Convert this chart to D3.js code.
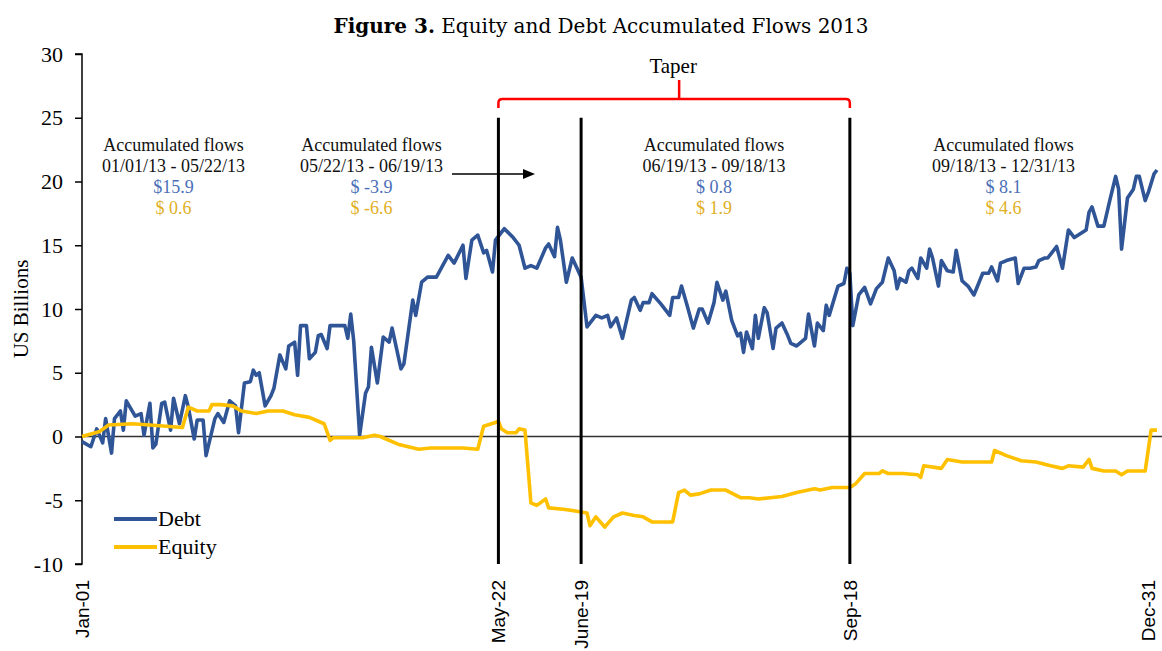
<!DOCTYPE html>
<html>
<head>
<meta charset="utf-8">
<script src="https://d3js.org/d3.v7.min.js"></script>
<style>
body {
  margin: 0;
  background: white;
}
</style>
<title>Equity and Debt Accumulated Flows 2013</title>
</head>
<body>
<div id="chart"></div>
<script>
// day of year (0 = Jan-01) and accumulated flows, US$ billions
const debtDays = [0,3,5,7,8,10,11,13,14,15,18,20,21,23,24,25,27,28,30,31,33,35,36,38,39,41,42,45,46,48,50,52,53,55,57,58,59,60,62,64,65,67,69,70,72,73,74,76,77,79,80,81,83,84,87,89,90,91,92,94,96,97,98,100,102,104,105,108,109,112,113,115,117,120,124,126,129,130,132,134,136,137,139,140,143,146,148,150,152,154,157,158,160,161,162,164,166,169,171,174,176,178,179,181,183,186,187,189,190,192,193,196,199,200,202,203,205,207,209,210,212,214,215,217,218,220,222,223,224,225,227,228,229,231,232,234,235,237,239,240,242,245,246,248,249,251,252,253,256,258,259,260,261,263,265,267,269,271,273,275,276,277,279,280,281,283,284,286,287,288,290,291,293,295,296,298,300,302,305,307,308,310,311,313,316,317,319,321,323,324,326,327,330,332,334,336,338,340,341,342,344,346,348,350,351,352,354,356,357,358,360,361,363,364];
const debtValues = [-0.4,-0.8,0.6,-0.5,1.4,-1.3,1.4,2.0,0.5,2.8,1.6,1.8,0.1,2.6,-0.9,-0.6,2.6,2.7,0.5,3.0,1.0,3.2,2.3,-0.2,1.3,1.3,-1.5,1.4,1.8,1.1,2.8,2.4,0.3,4.2,4.3,5.2,4.8,5.0,2.4,3.2,3.8,6.4,5.3,7.1,7.4,4.8,8.7,8.7,6.1,6.6,7.9,8.0,6.9,8.7,8.7,8.7,7.7,9.6,7.5,0.1,3.4,3.9,7.0,4.2,7.8,7.4,8.5,5.3,5.7,10.7,9.5,12.1,12.5,12.5,14.2,13.6,15.0,12.4,15.4,15.8,14.4,14.6,12.9,15.4,16.3,15.6,15.0,13.2,13.4,13.2,14.8,15.1,14.1,16.4,15.4,12.1,14.0,12.5,8.6,9.5,9.3,9.5,8.6,9.3,7.7,10.7,10.9,9.9,10.5,10.5,11.2,10.4,9.5,10.9,10.9,11.8,10.2,8.5,10.0,10.0,8.9,10.5,12.1,10.7,11.4,9.1,7.9,8.1,6.6,8.2,6.9,9.5,7.7,10.1,9.7,6.9,8.5,8.9,7.9,7.3,7.1,7.7,9.6,7.1,8.9,8.3,10.3,9.5,11.8,12.0,13.2,12.8,8.7,11.1,11.7,10.4,11.6,12.1,14.0,13.0,11.6,12.4,12.1,13.0,13.2,12.4,14.0,13.2,14.7,14.0,11.8,13.8,13.0,12.9,14.6,12.2,11.8,11.1,12.8,12.8,13.3,12.2,13.6,13.8,14.0,12.0,13.2,13.2,13.3,13.8,14.0,14.0,14.9,13.2,16.2,15.6,15.9,16.2,17.6,18.0,16.5,16.5,18.5,20.4,19.4,14.7,18.7,19.4,20.4,20.4,18.5,19.1,20.6,20.9];

const equityDays = [0,3,6,9,17,23,34,36,39,43,44,47,51,54,59,63,68,72,77,81,82,84,85,90,95,99,101,107,114,118,124,129,134,136,140,141,142,144,147,148,150,152,154,157,158,163,166,171,172,174,177,180,183,187,190,193,198,200,202,204,206,209,213,218,223,226,229,233,237,242,248,250,254,260,262,265,270,271,273,278,283,284,285,291,293,298,308,309,313,318,323,328,332,334,339,341,342,346,350,352,354,360,362,364];
const equityValues = [0.0,0.2,0.4,0.9,1.0,0.9,0.7,2.3,2.0,2.0,2.5,2.5,2.4,2.0,1.8,2.0,2.0,1.7,1.5,1.1,1.0,-0.3,-0.1,-0.1,-0.1,0.1,0.0,-0.6,-1.0,-0.9,-0.9,-0.9,-1.0,0.8,1.1,1.2,0.6,0.3,0.3,0.6,0.5,-5.2,-5.4,-4.9,-5.6,-5.7,-5.8,-6.0,-7.0,-6.3,-7.1,-6.3,-6.0,-6.2,-6.3,-6.7,-6.7,-6.7,-4.4,-4.2,-4.6,-4.5,-4.2,-4.2,-4.8,-4.8,-4.9,-4.8,-4.7,-4.4,-4.1,-4.2,-4.0,-4.0,-3.7,-2.9,-2.9,-2.7,-2.9,-2.9,-3.0,-3.2,-2.3,-2.5,-1.8,-2.0,-2.0,-1.1,-1.5,-1.9,-2.0,-2.3,-2.5,-2.3,-2.4,-1.8,-2.5,-2.7,-2.7,-3.0,-2.7,-2.7,0.5,0.5];

const yTicks = [-10, -5, 0, 5, 10, 15, 20, 25, 30];
const xTickDates = ["2013-01-01", "2013-05-22", "2013-06-19", "2013-09-18", "2013-12-31"];
const xTickLabels = ["Jan-01", "May-22", "June-19", "Sep-18", "Dec-31"];
const eventDates = ["2013-05-22", "2013-06-19", "2013-09-18"];

const periodLabels = ["01/01/13 - 05/22/13", "05/22/13 - 06/19/13", "06/19/13 - 09/18/13", "09/18/13 - 12/31/13"];
const periodDebt = ["$15.9", "$ -3.9", "$ 0.8", "$ 8.1"];
const periodEquity = ["$ 0.6", "$ -6.6", "$ 1.9", "$ 4.6"];
const periodCenters = [31, 98, 214, 312]; // day of year where each note is centred

const seriesNames = ["Debt", "Equity"];
const seriesColors = ["#2F5597", "#FFC000"];

// dimensions
const width = 1162;
const height = 651;
const marginTop = 54;
const marginLeft = 82;
const plotRight = 1157;
const plotBottom = 564;

const parse = d3.utcParse("%Y-%m-%d");
const dayToDate = d => new Date(Date.UTC(2013, 0, 1 + d));

const debt = debtDays.map((d, i) => ({date: dayToDate(d), value: debtValues[i]}));
const equity = equityDays.map((d, i) => ({date: dayToDate(d), value: equityValues[i]}));

const x = d3.scaleUtc()
  .domain([parse("2013-01-01"), parse("2013-12-31")])
  .range([marginLeft, plotRight]);

const y = d3.scaleLinear()
  .domain([-10, 30])
  .range([plotBottom, marginTop]);

const line = d3.line()
  .x(d => x(d.date))
  .y(d => y(d.value));

const serif = "'Liberation Serif', 'Times New Roman', serif";
const sans = "'Liberation Sans', Arial, sans-serif";

const svg = d3.create("svg")
  .attr("width", width)
  .attr("height", height)
  .attr("viewBox", [0, 0, width, height]);

// title
svg.append("text")
  .attr("x", 601)
  .attr("y", 33)
  .attr("text-anchor", "middle")
  .attr("font-family", "'DejaVu Serif', serif")
  .attr("font-size", 20)
  .call(t => t.append("tspan").attr("font-weight", "bold").text("Figure 3."))
  .call(t => t.append("tspan").text(" Equity and Debt Accumulated Flows 2013"));

// y axis
svg.append("g")
  .attr("transform", `translate(${marginLeft},0)`)
  .call(d3.axisLeft(y).tickValues(yTicks).tickSize(7).tickPadding(12).tickFormat(d => String(d)))
  .call(g => g.select(".domain").attr("stroke-width", 1.5).attr("d", `M-7,${y(-10)}H0V${y(30)}H-7`))
  .call(g => g.selectAll(".tick line").attr("stroke-width", 1.5))
  .call(g => g.selectAll(".tick text")
    .attr("font-family", serif)
    .attr("font-size", 22)
    .attr("fill", "#000"));

svg.append("text")
  .attr("transform", `translate(28,${(marginTop + plotBottom) / 2}) rotate(-90)`)
  .attr("text-anchor", "middle")
  .attr("font-family", serif)
  .attr("font-size", 21)
  .text("US Billions");

// zero line
svg.append("line")
  .attr("x1", marginLeft)
  .attr("x2", width)
  .attr("y1", y(0))
  .attr("y2", y(0))
  .attr("stroke", "#333")
  .attr("stroke-width", 1.5);

// x tick labels
svg.append("g")
  .selectAll("text")
  .data(xTickDates)
  .join("text")
    .attr("transform", d => `translate(${Math.min(x(parse(d)), width - 14)},${plotBottom + 16}) rotate(-90)`)
    .attr("text-anchor", "end")
    .attr("dy", "0.36em")
    .attr("font-family", sans)
    .attr("font-size", 19)
    .text((d, i) => xTickLabels[i]);

// series
const seriesData = [debt, equity];
svg.append("g")
  .selectAll("path")
  .data(seriesData)
  .join("path")
    .attr("fill", "none")
    .attr("stroke", (d, i) => seriesColors[i])
    .attr("stroke-width", 3.6)
    .attr("stroke-linejoin", "round")
    .attr("d", line);

// event lines
svg.append("g")
  .selectAll("line")
  .data(eventDates)
  .join("line")
    .attr("x1", d => x(parse(d)))
    .attr("x2", d => x(parse(d)))
    .attr("y1", y(25))
    .attr("y2", y(-10))
    .attr("stroke", "#000")
    .attr("stroke-width", 3);

// taper bracket
const bl = x(parse(eventDates[0]));
const br = x(parse(eventDates[2]));
const by = 99;
const bm = (bl + br) / 2 + 5;
svg.append("path")
  .attr("fill", "none")
  .attr("stroke", "#FF0000")
  .attr("stroke-width", 2.5)
  .attr("d", `M${bl},${by + 9}V${by + 4}Q${bl},${by} ${bl + 4},${by}H${br - 4}Q${br},${by} ${br},${by + 4}V${by + 9}M${bm},${by}V${by - 19}`);

svg.append("text")
  .attr("x", bm - 6)
  .attr("y", 73)
  .attr("text-anchor", "middle")
  .attr("font-family", serif)
  .attr("font-size", 21)
  .text("Taper");

// period notes
const notes = svg.append("g")
  .attr("font-family", serif)
  .attr("font-size", 18)
  .attr("text-anchor", "middle");

periodCenters.forEach((c, i) => {
  const cx = x(dayToDate(c));
  notes.append("text").attr("x", cx).attr("y", 151).attr("fill", "#111").text("Accumulated flows");
  notes.append("text").attr("x", cx).attr("y", 172).attr("fill", "#111").text(periodLabels[i]);
  notes.append("text").attr("x", cx).attr("y", 193).attr("fill", "#4A6FB8").text(periodDebt[i]);
  notes.append("text").attr("x", cx).attr("y", 214).attr("fill", "#E0B025").text(periodEquity[i]);
});

// arrow after the second note
const ay = 174;
svg.append("line")
  .attr("x1", 452)
  .attr("x2", 524)
  .attr("y1", ay)
  .attr("y2", ay)
  .attr("stroke", "#000")
  .attr("stroke-width", 1.5);
svg.append("path")
  .attr("d", `M523,${ay - 5}L535,${ay}L523,${ay + 5}Z`)
  .attr("fill", "#000");

// legend
const legend = svg.append("g")
  .selectAll("g")
  .data(seriesNames)
  .join("g")
    .attr("transform", (d, i) => `translate(114,${519 + i * 28})`);
legend.append("line")
  .attr("x1", 0)
  .attr("x2", 43)
  .attr("stroke", (d, i) => seriesColors[i])
  .attr("stroke-width", 3.8);
legend.append("text")
  .attr("x", 44)
  .attr("y", 7)
  .attr("font-family", serif)
  .attr("font-size", 22)
  .text(d => d);

document.getElementById("chart").appendChild(svg.node());
</script>
</body>
</html>
